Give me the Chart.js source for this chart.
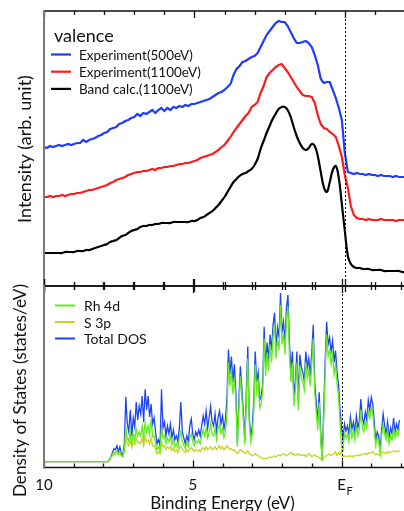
<!DOCTYPE html>
<html>
<head>
<meta charset="utf-8">
<script src="https://cdn.jsdelivr.net/npm/chart.js@4.4.0/dist/chart.umd.min.js"></script>
<style>
  html, body { margin: 0; padding: 0; background: #fff; overflow: hidden; width: 404px; height: 511px; }
  canvas { position: absolute; left: 0; top: 0; }
</style>
</head>
<body>
<canvas id="valenceChart" width="410" height="292"></canvas>
<canvas id="dosChart" width="410" height="514"></canvas>
<script>
// ---- top panel: valence band spectra (binding energy in eV, intensity in arb. units)
const specEnergy = [
  10.0, 9.9, 9.8, 9.7, 9.6, 9.5, 9.4, 9.3, 9.2, 9.1,
  9.0, 8.9, 8.8, 8.7, 8.6, 8.5, 8.4, 8.3, 8.2, 8.1,
  8.0, 7.9, 7.8, 7.7, 7.6, 7.5, 7.4, 7.3, 7.2, 7.1,
  7.0, 6.9, 6.8, 6.7, 6.6, 6.5, 6.4, 6.3, 6.2, 6.1,
  6.0, 5.9, 5.8, 5.7, 5.6, 5.5, 5.4, 5.3, 5.2, 5.1,
  5.0, 4.9, 4.8, 4.7, 4.6, 4.5, 4.4, 4.3, 4.2, 4.1,
  4.0, 3.9, 3.8, 3.7, 3.6, 3.5, 3.4, 3.3, 3.2, 3.1,
  3.0, 2.9, 2.8, 2.7, 2.6, 2.5, 2.4, 2.3, 2.2, 2.1,
  2.0, 1.9, 1.8, 1.7, 1.6, 1.5, 1.4, 1.3, 1.2, 1.1,
  1.0, 0.9, 0.8, 0.7, 0.6, 0.5, 0.4, 0.3, 0.2, 0.1,
  0.0, -0.1, -0.2, -0.3, -0.4, -0.5, -0.6, -0.7, -0.8, -0.9,
  -1.0, -1.1, -1.2, -1.3, -1.4, -1.5, -1.6, -1.7, -1.8, -1.9,
  -2.0
];
const exp500 = [
  139, 138, 140, 139, 140, 141, 140, 141, 142, 141,
  142, 143, 143, 146, 144, 146, 147, 148, 150, 151,
  153, 154, 157, 158, 159, 162, 163, 165, 166, 168,
  169, 172, 170, 173, 172, 174, 176, 173, 176, 178,
  175, 178, 176, 179, 178, 180, 179, 181, 180, 182,
  182, 183, 184, 185, 186, 187, 189, 191, 193, 194,
  196, 199, 202, 211, 217, 220, 224, 225, 227, 229,
  230, 233, 239, 245, 251, 255, 259, 263, 265, 264,
  264, 260, 254, 248, 243, 243, 244, 245, 243, 239,
  231, 221, 207, 203, 204, 204, 196, 188, 178, 166,
  133, 114, 113, 112, 113, 112, 112, 111, 112, 111,
  111, 110, 111, 110, 110, 110, 109, 110, 109, 109,
  109
];
const exp1100 = [
  89, 89, 90, 89, 90, 90, 91, 90, 91, 92,
  92, 93, 93, 94, 95, 96, 96, 97, 98, 99,
  100, 101, 103, 104, 106, 107, 108, 109, 111, 112,
  113, 114, 114, 115, 115, 116, 117, 116, 118, 118,
  119, 119, 120, 120, 121, 122, 122, 123, 123, 124,
  125, 126, 128, 129, 130, 131, 132, 134, 136, 139,
  141, 145, 149, 154, 158, 162, 166, 170, 173, 179,
  181, 184, 193, 200, 209, 213, 216, 219, 221, 222,
  218, 214, 209, 204, 199, 195, 191, 190, 190, 189,
  183, 171, 162, 158, 157, 154, 152, 149, 140, 129,
  111, 98, 80, 71, 68, 67, 67, 66, 67, 66,
  66, 66, 67, 66, 66, 66, 66, 65, 66, 66,
  66
];
const bandCalc = [
  33, 33, 33, 33, 33, 33, 33, 34, 34, 34,
  34, 35, 35, 35, 36, 36, 37, 38, 39, 40,
  41, 42, 44, 45, 46, 48, 50, 51, 53, 55,
  56, 57, 59, 60, 60, 61, 61, 62, 62, 63,
  63, 63, 63, 64, 64, 64, 64, 64, 64, 65,
  65, 66, 68, 69, 71, 73, 75, 78, 81, 85,
  89, 94, 99, 104, 107, 110, 112, 113, 115, 117,
  121, 127, 137, 145, 153, 160, 167, 172, 177, 179,
  179, 176, 169, 159, 150, 143, 138, 136, 138, 142,
  140, 130, 114, 99, 94, 104, 116, 120, 108, 82,
  55, 30, 22, 19, 18, 18, 17, 17, 17, 16,
  16, 16, 16, 15, 15, 15, 15, 15, 15, 14,
  14
];

// ---- bottom panel: calculated density of states
const dosEnergy = [
  10.0, 7.85,
  7.80, 7.75, 7.70, 7.65, 7.60, 7.55, 7.50, 7.45, 7.40, 7.35,
  7.30, 7.25, 7.20, 7.15, 7.10, 7.05, 7.00, 6.95, 6.90, 6.85,
  6.80, 6.75, 6.70, 6.65, 6.60, 6.55, 6.50, 6.45, 6.40, 6.35,
  6.30, 6.25, 6.20, 6.15, 6.10, 6.05, 6.00, 5.95, 5.90, 5.85,
  5.80, 5.75, 5.70, 5.65, 5.60, 5.55, 5.50, 5.45, 5.40, 5.35,
  5.30, 5.25, 5.20, 5.15, 5.10, 5.05, 5.00, 4.95, 4.90, 4.85,
  4.80, 4.75, 4.70, 4.65, 4.60, 4.55, 4.50, 4.45, 4.40, 4.35,
  4.30, 4.25, 4.20, 4.15, 4.10, 4.05, 4.00, 3.95, 3.90, 3.85,
  3.80, 3.75, 3.70, 3.65, 3.60, 3.55, 3.50, 3.45, 3.40, 3.35,
  3.30, 3.25, 3.20, 3.15, 3.10, 3.05, 3.00, 2.95, 2.90, 2.85,
  2.80, 2.75, 2.70, 2.65, 2.60, 2.55, 2.50, 2.45, 2.40, 2.35,
  2.30, 2.25, 2.20, 2.15, 2.10, 2.05, 2.00, 1.95, 1.90, 1.85,
  1.80, 1.75, 1.70, 1.65, 1.60, 1.55, 1.50, 1.45, 1.40, 1.35,
  1.30, 1.25, 1.20, 1.15, 1.10, 1.05, 1.00, 0.95, 0.90, 0.85,
  0.80, 0.75, 0.70, 0.65, 0.60, 0.55, 0.50, 0.45, 0.40, 0.35,
  0.30, 0.25, 0.20, 0.15, 0.10, 0.05, 0.00, -0.05, -0.10, -0.15,
  -0.20, -0.25, -0.30, -0.35, -0.40, -0.45, -0.50, -0.55, -0.60, -0.65,
  -0.70, -0.75, -0.80, -0.85, -0.90, -0.95, -1.00, -1.05, -1.10, -1.15,
  -1.20, -1.25, -1.30, -1.35, -1.40, -1.45, -1.50, -1.55, -1.60, -1.65,
  -1.70, -1.75, -1.80, -1.85, -1.90, -1.95
];
const dosTotal = [
  0, 0,
  2, 5, 9, 13, 12, 16, 10, 15, 8, 6,
  18, 65, 38, 30, 52, 26, 44, 35, 60, 42,
  56, 48, 66, 40, 73, 52, 66, 45, 58, 38,
  44, 30, 18, 22, 16, 73, 34, 40, 26, 36,
  28, 38, 24, 32, 22, 26, 20, 34, 60, 30,
  24, 18, 26, 20, 36, 43, 28, 22, 30, 26,
  32, 26, 36, 46, 38, 51, 34, 44, 56, 40,
  36, 48, 31, 44, 51, 38, 46, 33, 42, 64,
  113, 88, 106, 80, 98, 70, 18, 62, 96, 74,
  50, 21, 70, 116, 45, 25, 35, 60, 111, 80,
  90, 62, 66, 78, 136, 96, 120, 102, 128, 112,
  138, 150, 115, 135, 125, 170, 130, 141, 120, 155,
  168, 120, 92, 111, 65, 82, 111, 60, 108, 95,
  90, 81, 111, 95, 104, 86, 110, 138, 80, 60,
  40, 70, 30, 2, 50, 100, 141, 118, 125, 111,
  122, 100, 112, 90, 78, 52, 35, 22, 38, 31,
  36, 28, 45, 33, 40, 30, 46, 34, 41, 63,
  44, 38, 50, 42, 62, 52, 65, 58, 40, 21,
  30, 26, 10, 32, 48, 36, 28, 40, 24, 34,
  28, 44, 30, 38, 32, 42
];
const dosRh4d = [
  0, 0,
  2, 4, 7, 10, 9, 11, 8, 10, 6, 5,
  12, 35, 24, 20, 30, 18, 28, 22, 33, 26,
  30, 26, 36, 24, 40, 30, 36, 27, 43, 25,
  26, 18, 12, 15, 11, 34, 24, 26, 18, 24,
  20, 26, 17, 22, 15, 18, 14, 24, 30, 20,
  17, 13, 19, 15, 24, 28, 20, 16, 21, 19,
  22, 18, 25, 32, 26, 34, 24, 30, 38, 28,
  26, 34, 22, 32, 38, 28, 33, 24, 30, 48,
  100, 76, 92, 68, 84, 60, 15, 52, 86, 64,
  42, 17, 60, 104, 38, 20, 28, 50, 98, 70,
  80, 54, 58, 70, 124, 86, 110, 92, 118, 100,
  126, 138, 104, 124, 112, 158, 118, 130, 108, 144,
  156, 108, 80, 100, 56, 72, 100, 52, 96, 84,
  80, 72, 100, 84, 92, 76, 98, 124, 70, 50,
  32, 60, 22, 1, 40, 88, 128, 106, 112, 98,
  108, 88, 98, 78, 66, 40, 15, 12, 28, 24,
  28, 20, 36, 24, 32, 22, 36, 26, 32, 52,
  34, 30, 40, 34, 50, 44, 54, 48, 32, 16,
  24, 20, 8, 26, 38, 28, 22, 32, 18, 26,
  22, 34, 24, 30, 26, 34
];
const dosS3p = [
  0, 0,
  2, 4, 6, 8, 7, 9, 7, 8, 6, 5,
  10, 24, 18, 16, 22, 14, 20, 17, 24, 19,
  20, 18, 24, 16, 26, 20, 22, 18, 24, 16,
  16, 12, 8, 10, 8, 20, 15, 16, 12, 15,
  13, 15, 11, 14, 10, 12, 9, 14, 16, 12,
  11, 9, 12, 10, 13, 14, 12, 10, 12, 11,
  12, 10, 13, 14, 12, 15, 12, 13, 15, 12,
  13, 15, 12, 14, 16, 13, 15, 12, 14, 16,
  14, 12, 13, 11, 12, 10, 8, 10, 12, 11,
  10, 8, 9, 11, 8, 7, 6, 7, 8, 7,
  6, 5, 4, 3, 3, 4, 3, 4, 5, 4,
  5, 6, 5, 6, 7, 6, 7, 8, 7, 6,
  7, 8, 9, 7, 8, 6, 7, 8, 6, 7,
  6, 7, 5, 6, 8, 7, 5, 6, 7, 5,
  5, 4, 3, 1, 4, 5, 6, 7, 8, 6,
  7, 8, 10, 6, 9, 7, 11, 5, 6, 5,
  5, 6, 5, 6, 5, 6, 6, 7, 6, 7,
  7, 8, 8, 7, 9, 8, 9, 10, 8, 7,
  8, 7, 6, 9, 10, 9, 8, 10, 9, 10,
  10, 11, 10, 11, 10, 11
];

// labelled ticks on the energy axis (E is drawn with a subscript F)
const tickValues = [10, 5, 0];
const tickNames = ['10', '5', 'E'];

function pairs(xs, ys) {
  return xs.map((x, i) => ({ x: x, y: ys[i] }));
}

Chart.defaults.font.family = 'Lato, "Open Sans", sans-serif';
Chart.defaults.color = '#111';

// frame, inward ticks, Fermi level line, legend and rotated y title
const framePlugin = {
  id: 'frame',
  afterDraw(chart, args, opts) {
    const ctx = chart.ctx;
    const a = chart.chartArea;
    const x = chart.scales.x;
    ctx.save();

    // Fermi level
    const xf = Math.round(x.getPixelForValue(0)) + 0.5;
    ctx.strokeStyle = '#000';
    ctx.lineWidth = 1;
    ctx.setLineDash([2, 2]);
    ctx.beginPath();
    ctx.moveTo(xf, a.top);
    ctx.lineTo(xf, a.bottom);
    ctx.stroke();
    ctx.setLineDash([]);

    // horizontal frame lines
    ctx.strokeStyle = '#111';
    ctx.lineWidth = 1.5;
    ctx.beginPath();
    ctx.moveTo(a.left, a.top); ctx.lineTo(a.right + 10, a.top);
    ctx.moveTo(a.left, a.bottom); ctx.lineTo(a.right + 10, a.bottom);
    ctx.stroke();

    // ticks every 1 eV, longer at labelled ones
    ctx.lineWidth = 1.3;
    ctx.beginPath();
    x.ticks.forEach(t => {
      const px = Math.round(x.getPixelForValue(t.value)) + 0.5;
      const len = tickValues.includes(t.value) ? 7 : 4;
      const top = opts.topTicks === 'cross' ? a.top - len : a.top;
      ctx.moveTo(px, top); ctx.lineTo(px, a.top + len);
      const bot = opts.bottomTicks === 'cross' ? a.bottom + len : a.bottom;
      ctx.moveTo(px, a.bottom - len); ctx.lineTo(px, bot);
    });
    ctx.stroke();

    // left axis
    ctx.strokeStyle = '#7a7a7a';
    ctx.lineWidth = 2;
    ctx.beginPath();
    ctx.moveTo(a.left, a.top - 1); ctx.lineTo(a.left, a.bottom + 1);
    ctx.stroke();

    // legend
    const lg = opts.legend;
    ctx.textBaseline = 'middle';
    ctx.textAlign = 'left';
    if (lg.title) {
      ctx.fillStyle = '#111';
      ctx.font = lg.titleFont;
      ctx.textBaseline = 'alphabetic';
      ctx.fillText(lg.title, lg.titleX, lg.titleY);
      ctx.textBaseline = 'middle';
    }
    ctx.font = lg.font;
    lg.order.forEach((di, k) => {
      const ds = chart.data.datasets[di];
      const y = lg.y + k * lg.dy;
      ctx.strokeStyle = ds.borderColor;
      ctx.lineWidth = lg.lineWidth;
      ctx.beginPath();
      ctx.moveTo(lg.x, y); ctx.lineTo(lg.x + lg.len, y);
      ctx.stroke();
      ctx.fillStyle = '#111';
      ctx.fillText(ds.label, lg.textX, y + 1);
    });

    // y title
    const yt = opts.yTitle;
    ctx.translate(yt.x, yt.y);
    ctx.rotate(-Math.PI / 2);
    ctx.textAlign = 'center';
    ctx.textBaseline = 'middle';
    ctx.font = yt.font;
    ctx.fillStyle = '#111';
    ctx.fillText(yt.text, 0, 0);
    ctx.restore();

    // subscript F on the Fermi level tick label
    if (opts.subscript) {
      ctx.save();
      ctx.font = '11px Lato, sans-serif';
      ctx.fillStyle = '#111';
      ctx.textBaseline = 'alphabetic';
      ctx.textAlign = 'left';
      ctx.fillText('F', x.getPixelForValue(0) + 5, opts.subscript.y);
      ctx.restore();
    }
  }
};

new Chart(document.getElementById('valenceChart'), {
  type: 'line',
  data: {
    datasets: [
      { label: 'Experiment(500eV)', data: pairs(specEnergy, exp500), borderColor: '#1e3cff', borderWidth: 2.2, pointRadius: 0, tension: 0 },
      { label: 'Experiment(1100eV)', data: pairs(specEnergy, exp1100), borderColor: '#ff1a1a', borderWidth: 2.2, pointRadius: 0, tension: 0 },
      { label: 'Band calc.(1100eV)', data: pairs(specEnergy, bandCalc), borderColor: '#000000', borderWidth: 2.2, pointRadius: 0, tension: 0.4 }
    ]
  },
  options: {
    responsive: false,
    animation: false,
    devicePixelRatio: 1,
    layout: { padding: { left: 44, right: 5, top: 11, bottom: 6 } },
    scales: {
      x: { type: 'linear', min: -2, max: 10, reverse: true, display: false, ticks: { stepSize: 1 } },
      y: { min: 0, max: 275, display: false }
    },
    plugins: {
      legend: { display: false },
      tooltip: { enabled: false },
      frame: {
        topTicks: 'in',
        bottomTicks: 'cross',
        legend: {
          title: 'valence', titleFont: '18px Lato, sans-serif', titleX: 54, titleY: 42,
          font: '13.5px Lato, sans-serif', order: [0, 1, 2],
          x: 51, len: 20, textX: 79, y: 54.5, dy: 17.2, lineWidth: 2.2
        },
        yTitle: { text: 'Intensity (arb. unit)', x: 25, y: 149, font: '18px Lato, sans-serif' }
      }
    }
  },
  plugins: [framePlugin]
});

new Chart(document.getElementById('dosChart'), {
  type: 'line',
  data: {
    datasets: [
      { label: 'Rh 4d', data: pairs(dosEnergy, dosRh4d), borderColor: '#62ee1e', borderWidth: 1.3, pointRadius: 0, tension: 0 },
      { label: 'S 3p', data: pairs(dosEnergy, dosS3p), borderColor: '#c6d420', borderWidth: 1.3, pointRadius: 0, tension: 0 },
      { label: 'Total DOS', data: pairs(dosEnergy, dosTotal), borderColor: '#1e46f0', borderWidth: 1.3, pointRadius: 0, tension: 0 }
    ]
  },
  options: {
    responsive: false,
    animation: false,
    devicePixelRatio: 1,
    layout: { padding: { left: 44, right: 5, top: 286, bottom: 0 } },
    scales: {
      x: {
        type: 'linear', min: -2, max: 10, reverse: true,
        grid: { display: false, drawTicks: false },
        border: { display: false },
        ticks: {
          stepSize: 1, autoSkip: false, maxRotation: 0, padding: 9,
          font: { size: 15 }, color: '#111',
          callback: v => {
            const i = tickValues.indexOf(v);
            return i >= 0 ? tickNames[i] : '';
          }
        },
        title: { display: true, text: 'Binding Energy (eV)', font: { size: 17 }, color: '#111', padding: { top: -10, bottom: 0 } }
      },
      y: { min: -6, max: 177, display: false }
    },
    plugins: {
      legend: { display: false },
      tooltip: { enabled: false },
      frame: {
        topTicks: 'cross',
        bottomTicks: 'in',
        subscript: { y: 495 },
        legend: {
          font: '14px Lato, sans-serif', order: [0, 1, 2],
          x: 55, len: 20, textX: 84, y: 305.5, dy: 16.5, lineWidth: 2
        },
        yTitle: { text: 'Density of States (states/eV)', x: 20, y: 390.5, font: '17.2px Lato, sans-serif' }
      }
    }
  },
  plugins: [framePlugin]
});
</script>
</body>
</html>
